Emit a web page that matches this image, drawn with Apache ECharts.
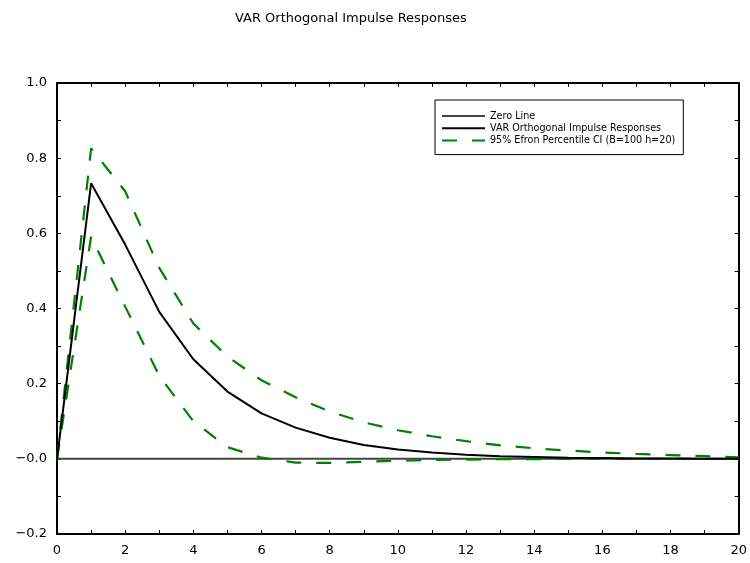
<!DOCTYPE html>
<html>
<head>
<meta charset="utf-8">
<script src="https://cdn.jsdelivr.net/npm/echarts@6/dist/echarts.min.js"></script>
<style>
html,body{margin:0;padding:0;background:#fff;}
#chart{width:750px;height:563px;}
</style>
</head>
<body>
<div id="chart"></div>
<script>
var periods = [0,1,2,3,4,5,6,7,8,9,10,11,12,13,14,15,16,17,18,19,20];
var zeroLine = [0,0,0,0,0,0,0,0,0,0,0,0,0,0,0,0,0,0,0,0,0];
var irf = [0,0.733,0.570,0.391,0.265,0.179,0.121,0.083,0.056,0.037,0.025,0.017,0.011,0.007,0.005,0.003,0.002,0.001,0.001,0.000,0.000];
var ciUpper = [0,0.826,0.712,0.508,0.360,0.272,0.209,0.164,0.126,0.097,0.076,0.060,0.047,0.036,0.028,0.022,0.017,0.013,0.010,0.007,0.004];
var ciLower = [0,0.591,0.405,0.221,0.100,0.031,0.003,-0.010,-0.011,-0.008,-0.005,-0.003,-0.002,-0.001,-0.001,0,0,0,0,0,0];
var xTicks = [0,2,4,6,8,10,12,14,16,18,20];
var yTicks = [-0.2,0,0.2,0.4,0.6,0.8,1.0];
var titleText = 'VAR Orthogonal Impulse Responses';
var nameZero = 'Zero Line';
var nameIrf = 'VAR Orthogonal Impulse Responses';
var nameCI = '95% Efron Percentile CI (B=100 h=20)';

function pairs(ys){ return periods.map(function(p,i){ return [p, ys[i]]; }); }
var FONT = 'DejaVu Sans';

function yFmt(v){
  for (var i=0;i<yTicks.length;i++){
    if (Math.abs(v-yTicks[i])<1e-9){
      if (Math.abs(v)<1e-9) return '\u22120.0';
      var s = Math.abs(v).toFixed(1);
      return (v<0?'\u2212':'') + s;
    }
  }
  return '';
}
function xFmt(v){
  for (var i=0;i<xTicks.length;i++){ if (Math.abs(v-xTicks[i])<1e-9) return String(xTicks[i]); }
  return '';
}

var axisLine = {show:true, onZero:false, lineStyle:{color:'#000', width:2}};
var tick = {show:true, inside:true, length:4, lineStyle:{color:'#000', width:1}};

var chart = echarts.init(document.getElementById('chart'), null, {renderer:'canvas'});
chart.setOption({
  animation:false,
  backgroundColor:'#fff',
  title:{
    text:titleText, left:230, top:7,
    textStyle:{fontFamily:FONT, fontSize:13, fontWeight:'normal', color:'#000'}
  },
  legend:{
    orient:'vertical', left:435, top:100,
    data:[nameZero, nameIrf, nameCI],
    itemWidth:43, itemHeight:9, itemGap:2.3,
    padding:[11,8,9,6],
    borderColor:'#000', borderWidth:1,
    backgroundColor:'#fff',
    itemStyle:{opacity:0},
    textStyle:{fontFamily:FONT, fontSize:9.6, color:'#000'}
  },
  grid:{left:57, right:10, top:83, bottom:29, containLabel:false},
  xAxis:[
    {type:'value', min:0, max:20, interval:1, position:'bottom',
     axisLine:axisLine, axisTick:tick, splitLine:{show:false},
     axisLabel:{formatter:xFmt, fontFamily:FONT, fontSize:13, color:'#000', margin:10, showMinLabel:true, showMaxLabel:true}},
    {type:'value', min:0, max:20, interval:1, position:'top',
     axisLine:axisLine, axisTick:tick, splitLine:{show:false}, axisLabel:{show:false}}
  ],
  yAxis:[
    {type:'value', min:-0.2, max:1.0, interval:0.1, position:'left',
     axisLine:axisLine, axisTick:tick, splitLine:{show:false},
     axisLabel:{formatter:yFmt, fontFamily:FONT, fontSize:13, color:'#000', margin:10}},
    {type:'value', min:-0.2, max:1.0, interval:0.1, position:'right',
     axisLine:axisLine, axisTick:tick, splitLine:{show:false}, axisLabel:{show:false}}
  ],
  series:[
    {name:nameZero, type:'line', data:pairs(zeroLine), symbol:'none', color:'#444',
     lineStyle:{color:'#444', width:2}, z:2},
    {name:nameCI, type:'line', data:pairs(ciUpper), symbol:'none', color:'#008000',
     lineStyle:{color:'#008000', width:2.2, type:[15,15]}, z:3},
    {name:nameCI, type:'line', data:pairs(ciLower), symbol:'none', color:'#008000',
     lineStyle:{color:'#008000', width:2.2, type:[15,15]}, z:3},
    {name:nameIrf, type:'line', data:pairs(irf), symbol:'none', color:'#000',
     lineStyle:{color:'#000', width:2}, z:4}
  ]
});
</script>
</body>
</html>
